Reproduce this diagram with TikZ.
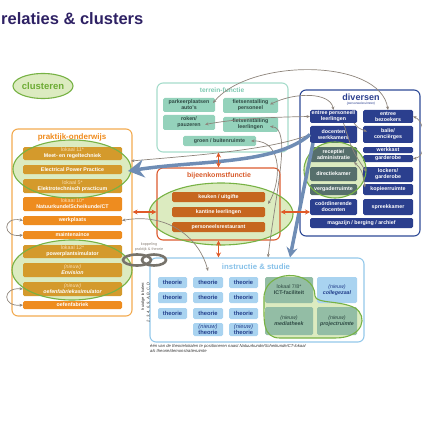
\documentclass[tikz,border=0pt]{standalone}
\usepackage{fontspec}
\setmainfont{Liberation Sans}
\usetikzlibrary{arrows.meta,shapes.geometric,calc}
\definecolor{titlec}{HTML}{2E2164}
\definecolor{clfill}{HTML}{DCEBC0}
\definecolor{clline}{HTML}{77B244}
\definecolor{cltext}{HTML}{6CAB34}
\definecolor{orng}{HTML}{EE8C1F}
\definecolor{orngline}{HTML}{F2AA50}
\definecolor{orngtitle}{HTML}{EF8A1C}
\definecolor{ochre}{HTML}{D49A2C}
\definecolor{ltorng}{HTML}{F9DDB0}
\definecolor{tealc}{HTML}{94D2BB}
\definecolor{tealline}{HTML}{A6DCCB}
\definecolor{tealtitle}{HTML}{7EC9B1}
\definecolor{tealtext}{HTML}{2F4A44}
\definecolor{navy}{HTML}{2B3F8E}
\definecolor{navyline}{HTML}{2E4A96}
\definecolor{navyc}{HTML}{566F6C}
\definecolor{brn}{HTML}{C6661F}
\definecolor{redline}{HTML}{DC5A2E}
\definecolor{redtitle}{HTML}{D85A2A}
\definecolor{lblue}{HTML}{A9D3F0}
\definecolor{lblueline}{HTML}{93C8EA}
\definecolor{lbluetitle}{HTML}{86C0E8}
\definecolor{navytext}{HTML}{24408C}
\definecolor{iboxg}{HTML}{93BDA5}
\definecolor{ictext}{HTML}{2F4A44}
\definecolor{garr}{HTML}{8D847B}
\definecolor{barr}{HTML}{6F8DB5}
\definecolor{rarr}{HTML}{E05A28}
\definecolor{chainc}{HTML}{77736B}
\definecolor{fntext}{HTML}{333333}
\newcommand\mybox[7]{\node[#1,minimum width={#5-#3},minimum height={#6-#4}] (#2) at ({(#3+#5)/2},{(#4+#6)/2}) {#7};}
\newcommand\fs[1]{\fontsize{#1}{#1}\selectfont}
\newcommand\lighttxt[1]{{\mdseries\color{ltorng}#1}}
\begin{document}
\begin{tikzpicture}[x=1pt,y=-1pt,
  bxs/.style={inner sep=0pt, outer sep=0pt, rounded corners=1.5pt, align=center, font=\bfseries\fontsize{5.3}{5.8}\selectfont},
  pbox/.style={bxs, fill=orng, text=white},
  pboxc/.style={bxs, fill=ochre, text=white},
  tbox/.style={bxs, fill=tealc, text=tealtext},
  dbox/.style={bxs, fill=navy, text=white},
  dboxc/.style={bxs, fill=navyc, text=white},
  bbox/.style={bxs, fill=brn, text=white},
  ibox/.style={bxs, fill=lblue, text=navytext, font=\bfseries\fontsize{5.8}{6.4}\selectfont},
  iboxc/.style={bxs, fill=iboxg, text=ictext},
  outerbox/.style={draw, rounded corners=6pt, line width=1.1pt, inner sep=0pt},
  cloutline/.style={draw=clline, line width=1.1pt},
  garrow/.style={draw=garr, line width=0.7pt, -{Stealth[length=3.5pt,width=3pt]}},
  garrow2/.style={draw=garr, line width=0.7pt, {Stealth[length=3.5pt,width=3pt]}-{Stealth[length=3.5pt,width=3pt]}},
  rarrow/.style={draw=rarr, line width=1.2pt, {Stealth[length=5pt,width=5pt]}-{Stealth[length=5pt,width=5pt]}},
  barrow/.style={draw=barr, line width=3.5pt, -{Stealth[length=16pt,width=18pt]}},
  barrowb/.style={draw=barr, line width=3.5pt, -{Stealth[length=10pt,width=11pt]}},
  chain/.style={draw=chainc, line width=2.6pt}
]
\useasboundingbox (0,0) rectangle (422,422);

% title
\node[anchor=base west, inner sep=0pt, font=\bfseries\fs{16.5}, text=titlec] (title) at (1,25) {relaties \& clusters};
\node[ellipse, draw=clline, line width=1.1pt, fill=clfill, minimum width=60, minimum height=25, inner sep=0pt, text=cltext, font=\bfseries\fs{9.5}] (clu) at (43,86) {clusteren};

% cluster fills
\fill[clfill] (72,169) ellipse [x radius=59, y radius=29];
\fill[clfill] (72,270) ellipse [x radius=60, y radius=30];
\fill[clfill] (221,214) ellipse [x radius=72, y radius=31];
\fill[clfill] (335,170) ellipse [x radius=31, y radius=28];
\fill[clfill] (264,300) .. controls (262,268) and (315,268) .. (315,296) .. controls (316,304) and (340,300) .. (355,308) .. controls (368,316) and (364,338) .. (335,338) -- (280,338) .. controls (262,338) and (264,320) .. cycle;

% praktijk-onderwijs
\mybox{outerbox,draw=orngline}{prak}{12}{129}{132}{316}{}
\node[font=\bfseries\fs{8}, text=orngtitle] (praktt) at (72,137) {praktijk-onderwijs};
\mybox{pboxc}{p1}{23}{147}{122}{160}{\lighttxt{lokaal 11*}\\Meet- en regeltechniek}
\mybox{pboxc}{p2}{23}{165}{122}{174}{Electrical Power Practice}
\mybox{pboxc}{p3}{23}{179}{122}{193}{\lighttxt{lokaal 5*}\\Elektrotechnisch practicum}
\mybox{pbox}{p4}{23}{197}{122}{211}{\lighttxt{lokaal 10*}\\Natuurkunde/Scheikunde/CT}
\mybox{pbox}{p5}{23}{216}{122}{225}{werkplaats}
\mybox{pbox}{p6}{23}{231}{122}{239}{maintenaince}
\mybox{pboxc}{p7}{23}{245}{122}{258}{\lighttxt{lokaal 12*}\\powerplantsimulator}
\mybox{pboxc}{p8}{23}{263}{122}{277}{\lighttxt{\itshape (nieuw)}\\\itshape Envision}
\mybox{pboxc}{p9}{23}{282}{122}{296}{\lighttxt{\itshape (nieuw)}\\\itshape oefenfabriekasimulator}
\mybox{pbox}{p10}{23}{301}{122}{309}{oefenfabriek}

% terrein-functie
\mybox{outerbox,draw=tealline}{terr}{157}{83}{288}{152}{}
\node[font=\bfseries\fs{6.6}, text=tealtitle] (terrt) at (222,90) {terrein-functie};
\mybox{tbox}{pk}{163}{98}{215}{112}{parkeerplaatsen\\auto's}
\mybox{tbox}{fp}{223}{98}{278}{113}{fietsenstalling\\personeel}
\mybox{tbox}{rp}{163}{115}{215}{130}{roken/\\pauzeren}
\mybox{tbox}{fl}{223}{117}{278}{132}{fietsenstalling\\leerlingen}
\mybox{tbox}{gb}{183}{136}{256}{146}{groen / buitenruimte}

% diversen
\mybox{outerbox,draw=navyline}{div}{300}{90}{420}{236}{}
\node[font=\bfseries\fs{9}, text=navy] (divt) at (361,97) {diversen};
\node[font=\itshape\fs{3.2}, text=navy] (divs) at (361,104) {(personeelsruimten)};
\mybox{dbox}{ep}{310}{110}{357}{123}{entree personeel/\\leerlingen}
\mybox{dbox}{eb}{363}{110}{413}{123}{entree\\bezoekers}
\mybox{dbox}{dw}{310}{126}{357}{143}{docenten\\werkkamers}
\mybox{dbox}{bc}{363}{126}{413}{143}{balie/\\conciërges}
\mybox{dboxc}{ra}{310}{147}{357}{162}{receptie/\\administratie}
\mybox{dbox}{wk}{363}{147}{413}{153}{werkkast}
\mybox{dbox}{gd}{363}{155}{413}{162}{garderobe}
\mybox{dboxc}{dk}{310}{167}{357}{181}{directiekamer}
\mybox{dbox}{lg}{363}{167}{413}{182}{lockers/\\garderobe}
\mybox{dboxc}{vr}{310}{184}{357}{195}{vergaderruimte}
\mybox{dbox}{kr}{363}{184}{413}{195}{kopieerruimte}
\mybox{dbox}{cd}{310}{199}{357}{215}{coördinerende\\docenten}
\mybox{dbox}{sk}{363}{199}{413}{215}{spreekkamer}
\mybox{dbox}{mb}{310}{218}{413}{228}{magazijn / berging / archief}

% bijeenkomstfunctie
\mybox{outerbox,draw=redline}{bij}{157}{168}{280}{240}{}
\node[font=\bfseries\fs{7}, text=redtitle] (bijt) at (219,176) {bijeenkomstfunctie};
\mybox{bbox}{kk}{172}{192}{265}{202}{keuken / uitgifte}
\mybox{bbox}{kl}{172}{207}{265}{217}{kantine leerlingen}
\mybox{bbox}{pr}{172}{222}{265}{232}{personeelsrestaurant}

% instructie & studie
\mybox{outerbox,draw=lblueline}{ins}{150}{258}{364}{342}{}
\node[font=\bfseries\fs{7.8}, text=lbluetitle] (inst) at (256,267) {instructie \& studie};
\mybox{ibox}{t11}{158}{277}{187}{288}{theorie}
\mybox{ibox}{t12}{193}{277}{223}{288}{theorie}
\mybox{ibox}{t13}{229}{277}{258}{288}{theorie}
\mybox{ibox}{t21}{158}{292}{187}{303}{theorie}
\mybox{ibox}{t22}{193}{292}{223}{303}{theorie}
\mybox{ibox}{t23}{229}{292}{258}{303}{theorie}
\mybox{ibox}{t31}{158}{308}{187}{319}{theorie}
\mybox{ibox}{t32}{193}{308}{223}{319}{theorie}
\mybox{ibox}{t33}{229}{308}{258}{319}{theorie}
\mybox{ibox}{t42}{193}{323}{223}{336}{{\mdseries\itshape (nieuw)}\\theorie}
\mybox{ibox}{t43}{229}{323}{258}{336}{{\mdseries\itshape (nieuw)}\\theorie}
\mybox{iboxc}{ict}{265}{277}{313}{303}{{\mdseries lokaal 7/8*}\\ICT-faciliteit}
\mybox{ibox,font=\bfseries\fontsize{5.3}{5.8}\selectfont}{cz}{317}{277}{357}{303}{{\mdseries\itshape (nieuw)}\\\itshape collegezaal}
\mybox{iboxc}{mt}{265}{307}{313}{335}{{\mdseries\itshape (nieuw)}\\\itshape mediatheek}
\mybox{iboxc}{pj}{317}{307}{357}{335}{{\mdseries\itshape (nieuw)}\\\itshape projectruimte}
\node[rotate=90, anchor=east, inner sep=0pt, font=\itshape\fs{4}, text=fntext] (hl1) at (143,282) {huidige lokalen:};
\node[rotate=90, anchor=east, inner sep=0pt, font=\itshape\fs{4}, text=fntext] (hl2) at (148.5,282) {2, 3, 4, 6, 9, A, B, C, D};
\node[anchor=north west, inner sep=0pt, align=left, font=\itshape\fontsize{4.2}{5.6}\selectfont, text=fntext] (fn) at (150,344) {één van de theorielokalen te positioneren naast Natuurkunde/Scheikunde/CT-lokaal\\als theorie/demonstratieruimte};

% cluster outlines
\draw[cloutline] (72,169) ellipse [x radius=59, y radius=29];
\draw[cloutline] (72,270) ellipse [x radius=60, y radius=30];
\draw[cloutline] (221,214) ellipse [x radius=72, y radius=31];
\draw[cloutline] (335,170) ellipse [x radius=31, y radius=28];
\draw[cloutline] (264,300) .. controls (262,268) and (315,268) .. (315,296) .. controls (316,304) and (340,300) .. (355,308) .. controls (368,316) and (364,338) .. (335,338) -- (280,338) .. controls (262,338) and (264,320) .. cycle;

% koppeling
\node[font=\fontsize{3.8}{4.3}\selectfont, text=garr, align=center, inner sep=0pt] (kop) at (149,247) {koppeling\\praktijk \& theorie};
\draw[chain] (137,260) ellipse [x radius=14, y radius=5.5];
\draw[chain] (154,260) ellipse [x radius=12, y radius=5.5];

% gray arrows
\draw[garrow2] (eb.north) .. controls (380,58) and (250,58) .. ($(pk.east)+(-2,-2)$);
\draw[garrow2] (ep.north) .. controls (330,92) and (295,92) .. ($(fp.east)+(-8,-1)$);
\draw[garrow2] (ep.west) .. controls (280,117) and (240,118) .. ($(rp.east)+(-10,2)$);
\draw[garrow2] ($(fl.east)+(-8,2)$) .. controls (292,128) and (276,190) .. ($(ins.north)+(11,0)$);
\draw[garrow2] ($(gb.east)+(-5,0)$) .. controls (285,140) and (280,185) .. ($(kk.south east)+(3,2)$);
\draw[garrow2] (p5.west) .. controls (2,216) and (2,238) .. (p6.west);
\draw[garrow2] (p9.west) .. controls (2,287) and (2,307) .. (p10.west);
\draw[garrow2] (p5.east) .. controls (170,212) and (200,240) .. ($(t12.north)+(0,-6)$);
\coordinate (e1a) at (131,161);
\coordinate (e1b) at (128,171);
\draw[garrow] (dw.west) .. controls (270,150) and (200,155) .. (e1a);
\draw[garrow] ($(ep.south east)+(-3,0)$) .. controls (358,128) .. ($(bc.west)+(4,-3)$);
\draw[garrow2] (eb.east) .. controls (427,122) and (427,158) .. (gd.east);
\draw[garrow] ($(ep.south)+(10,0)$) .. controls (352,150) .. ($(lg.west)+(3,-3)$);
\draw[garrow2] ($(ra.south east)+(-3,0)$) .. controls (362,170) .. ($(kr.west)+(2,-2)$);

% blue arrows
\draw[barrow] (dw.west) .. controls (275,165) and (200,160) .. (e1b);
\draw[barrowb] ($(dw.south west)+(3,0)$) -- ($(ins.north)+(33,0)$);

% red arrows
\draw[rarrow] (bij.north |- terr.south) -- (bij.north);
\draw[rarrow] (bij.south) -- (bij.south |- ins.north);
\draw[rarrow] (bij.east |- kl.center) -- (cd.west |- kl.center);
\draw[rarrow] (prak.east |- kl.center) -- (bij.west |- kl.center);
\end{tikzpicture}
\end{document}
